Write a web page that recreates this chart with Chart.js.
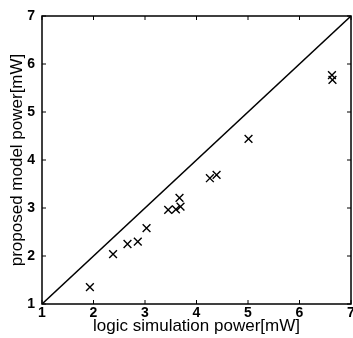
<!DOCTYPE html>
<html>
<head>
<meta charset="utf-8">
<script src="https://cdn.jsdelivr.net/npm/chart.js@4/dist/chart.umd.min.js"></script>
<style>
  html, body { margin: 0; padding: 0; background: #fff; }
  #wrap { width: 353px; height: 338px; position: relative; }
</style>
</head>
<body>
<div id="wrap"><canvas id="powerChart"></canvas></div>
<script>
// measured power values [mW]
const logicPower = [1.93, 2.38, 2.66, 2.86, 3.03, 3.45, 3.60, 3.67, 3.69, 4.26, 4.39, 5.01, 6.63, 6.64];
const modelPower = [1.35, 2.04, 2.25, 2.30, 2.58, 2.96, 2.97, 3.21, 3.03, 3.62, 3.69, 4.44, 5.77, 5.67];
// y = x reference line
const idealLine = [1, 7];
const axisTicks = [1, 2, 3, 4, 5, 6, 7];

const points = logicPower.map((v, i) => ({ x: v, y: modelPower[i] }));
const diag = idealLine.map(v => ({ x: v, y: v }));

// box around the plot with small inward ticks (matlab style)
const frame = {
    id: 'frame',
    afterDatasetsDraw(chart) {
        const { ctx, chartArea: a, scales: { x, y } } = chart;
        ctx.save();
        ctx.strokeStyle = '#000';
        ctx.lineWidth = 1.5;
        ctx.strokeRect(a.left, a.top, a.right - a.left, a.bottom - a.top);
        ctx.beginPath();
        x.ticks.forEach(t => {
            const px = x.getPixelForValue(t.value);
            ctx.moveTo(px, a.bottom); ctx.lineTo(px, a.bottom - 4);
            ctx.moveTo(px, a.top); ctx.lineTo(px, a.top + 4);
        });
        y.ticks.forEach(t => {
            const py = y.getPixelForValue(t.value);
            ctx.moveTo(a.left, py); ctx.lineTo(a.left + 4, py);
            ctx.moveTo(a.right, py); ctx.lineTo(a.right - 4, py);
        });
        ctx.lineWidth = 1;
        ctx.stroke();
        ctx.restore();
    }
};

const tickFont = { family: "'Liberation Sans', Arial, sans-serif", size: 14, weight: 'bold' };
const titleFont = { family: "'Liberation Sans', Arial, sans-serif", size: 17 };

new Chart(document.getElementById('powerChart'), {
    type: 'scatter',
    data: {
        datasets: [
            {
                label: 'proposed model',
                data: points,
                pointStyle: 'crossRot',
                pointRadius: 5.5,
                pointBorderWidth: 1.4,
                borderColor: '#000',
                backgroundColor: '#000'
            },
            {
                type: 'line',
                label: 'y = x',
                data: diag,
                borderColor: '#000',
                borderWidth: 1.5,
                pointRadius: 0,
                fill: false
            }
        ]
    },
    options: {
        responsive: true,
        maintainAspectRatio: false,
        animation: false,
        layout: { autoPadding: false, padding: { top: 16, right: 2, left: 0, bottom: 0 } },
        plugins: { legend: { display: false }, tooltip: { enabled: false } },
        scales: {
            x: {
                type: 'linear',
                min: 1, max: 7,
                afterBuildTicks: s => { s.ticks = axisTicks.map(v => ({ value: v })); },
                afterFit: s => { s.height = 34; s.paddingLeft = 0; s.paddingRight = 0; },
                grid: { display: false, drawTicks: false },
                border: { display: false },
                ticks: { color: '#000', font: tickFont, padding: 1, maxRotation: 0 },
                title: {
                    display: true,
                    text: 'logic simulation power[mW]',
                    color: '#000',
                    font: titleFont,
                    padding: { top: 0, bottom: 1 }
                }
            },
            y: {
                type: 'linear',
                min: 1, max: 7,
                afterBuildTicks: s => { s.ticks = axisTicks.map(v => ({ value: v })); },
                afterFit: s => { s.width = 42; },
                grid: { display: false, drawTicks: false },
                border: { display: false },
                ticks: { color: '#000', font: tickFont, padding: 7 },
                title: {
                    display: true,
                    text: 'proposed model power[mW]',
                    color: '#000',
                    font: titleFont,
                    padding: { top: 7, bottom: 0 }
                }
            }
        }
    },
    plugins: [frame]
});
</script>
</body>
</html>
